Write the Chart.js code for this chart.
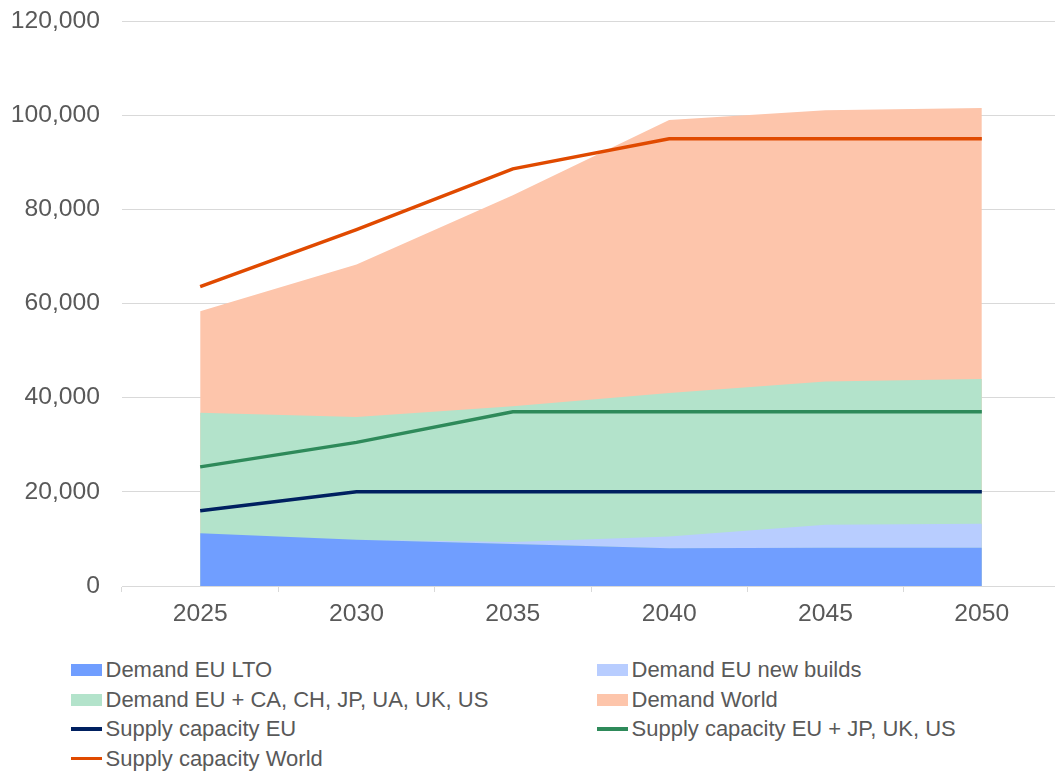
<!DOCTYPE html>
<html>
<head>
<meta charset="utf-8">
<script src="https://cdn.jsdelivr.net/npm/chart.js@4.4.1/dist/chart.umd.min.js"></script>
<style>
  html, body { margin: 0; padding: 0; background: #ffffff; overflow: hidden; width: 1055px; height: 772px; }
  #wrap { position: absolute; left: 0; top: 0; width: 1060px; height: 640px; }
  .leg { position: absolute; font-family: "Liberation Sans", Arial, sans-serif; font-size: 22px; color: #595959; white-space: nowrap; line-height: 26px; height: 26px; }
  .leg .sw { position: absolute; left: 0; }
  .leg .tx { position: absolute; }
</style>
</head>
<body>
<div id="wrap"><canvas id="c" width="1060" height="640"></canvas></div>
<div id="legend"></div>
<script>
const years = ['2025', '2030', '2035', '2040', '2045', '2050'];
const demandEuLto = [11200, 9800, 8900, 8000, 8150, 8150];
const demandEuNewBuilds = [0, 0, 450, 2500, 4850, 5050];
const demandEuPlus = [36800, 35900, 38200, 41000, 43450, 43950];
const demandWorld = [58350, 68300, 83000, 99000, 101050, 101500];
const supplyEu = [16000, 20000, 20000, 20000, 20000, 20000];
const supplyEuJpUkUs = [25300, 30500, 37000, 37000, 37000, 37000];
const supplyWorld = [63600, 75700, 88600, 95000, 95000, 95000];
const yTicks = [0, 20000, 40000, 60000, 80000, 100000, 120000];

const FONT = '"Liberation Sans", Arial, sans-serif';
const TXT = '#595959';
const GRID = '#d9d9d9';

const area = (label, data, color, fill, stack) => ({
  type: 'line', label, data, stack, order: 1,
  backgroundColor: color, borderColor: color, borderWidth: 0,
  fill, pointRadius: 0, pointHoverRadius: 0, tension: 0, kind: 'area'
});
const line = (label, data, color, stack) => ({
  type: 'line', label, data, stack, order: 0,
  borderColor: color, backgroundColor: color, borderWidth: 3.5,
  fill: false, pointRadius: 0, pointHoverRadius: 0, tension: 0, kind: 'line'
});

const datasets = [
  area('Demand EU LTO', demandEuLto, '#709eff', 'origin', 'eu'),
  area('Demand EU new builds', demandEuNewBuilds, '#b8cdff', '-1', 'eu'),
  area('Demand EU + CA, CH, JP, UA, UK, US', demandEuPlus, '#b3e3cb', 'origin', 'euplus'),
  area('Demand World', demandWorld, '#fdc5ab', 'origin', 'world'),
  line('Supply capacity EU', supplyEu, '#002060', 's1'),
  line('Supply capacity EU + JP, UK, US', supplyEuJpUkUs, '#2e8a5a', 's2'),
  line('Supply capacity World', supplyWorld, '#e04a00', 's3')
];

new Chart(document.getElementById('c'), {
  type: 'line',
  data: { labels: years, datasets },
  options: {
    responsive: false,
    animation: false,
    layout: { padding: { top: 21, left: 0, right: 0, bottom: 0 } },
    plugins: { legend: { display: false }, tooltip: { enabled: false } },
    scales: {
      x: {
        type: 'category',
        offset: true,
        grid: { offset: true, drawOnChartArea: false, drawTicks: true, tickLength: 6, color: GRID, lineWidth: 1 },
        border: { display: true, color: GRID, width: 1 },
        ticks: { color: TXT, font: { family: FONT, size: 24.7 }, padding: 7, maxRotation: 0 },
        afterFit: (s) => { s.height = 54; s.paddingLeft = 0; s.paddingRight = 0; }
      },
      y: {
        stacked: true,
        min: 0, max: 120000,
        afterBuildTicks: (s) => { s.ticks = yTicks.map(v => ({ value: v })); },
        grid: { color: GRID, lineWidth: 1, drawTicks: false },
        border: { display: false },
        ticks: {
          color: TXT, font: { family: FONT, size: 24.7 }, padding: 22,
          callback: (v) => Number(v).toLocaleString('en-US')
        },
        afterFit: (s) => { s.width = 122; s.paddingTop = 0; s.paddingBottom = 0; }
      }
    }
  }
});

// HTML legend in two columns
const legendItems = datasets.map(d => ({ label: d.label, color: d.borderColor, kind: d.kind }));
const colX = [71, 597];
const rowY = [670, 699.5, 729, 758.5];
const legendEl = document.getElementById('legend');
legendItems.forEach((it, i) => {
  const col = i % 2, row = Math.floor(i / 2);
  const div = document.createElement('div');
  div.className = 'leg';
  div.style.left = colX[col] + 'px';
  div.style.top = (rowY[row] - 13) + 'px';
  const sw = document.createElement('div');
  sw.className = 'sw';
  sw.style.width = '31px';
  sw.style.background = it.color;
  if (it.kind === 'area') { sw.style.height = '12px'; sw.style.top = '7px'; }
  else { sw.style.height = '3.5px'; sw.style.top = '11px'; }
  const tx = document.createElement('span');
  tx.className = 'tx';
  tx.style.left = '34.5px';
  tx.style.top = '0px';
  tx.textContent = it.label;
  div.appendChild(sw); div.appendChild(tx);
  legendEl.appendChild(div);
});
</script>
</body>
</html>
